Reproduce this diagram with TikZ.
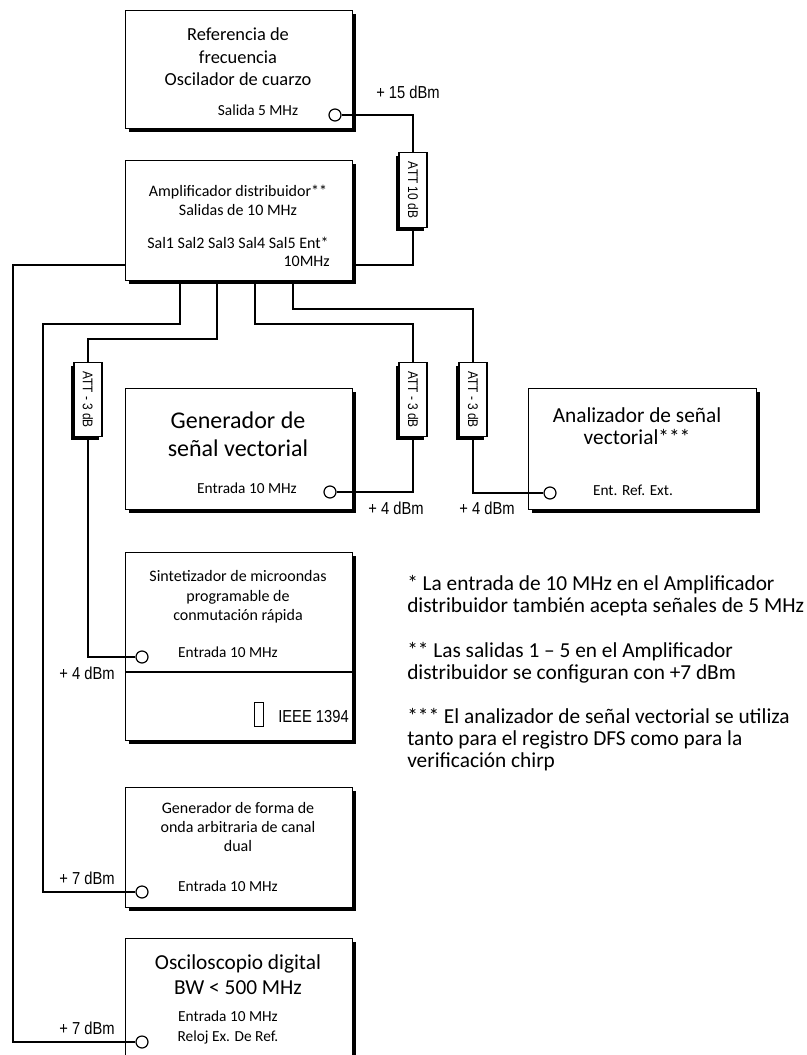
\documentclass[tikz,border=0pt]{standalone}
\usepackage{fontspec}
\setmainfont{Carlito}
\newfontfamily\narrowfont[FakeStretch=0.85]{Liberation Sans}
\usetikzlibrary{shadows}
\def\Fs#1#2{\fontsize{#1}{#2}\selectfont}
\tikzset{
	equipo/.style={draw, line width=0.9pt, fill=white, anchor=north west, inner sep=0pt,
		minimum width=170.25pt,
		drop shadow={shadow xshift=2.5pt, shadow yshift=-2.5pt, fill=black, opacity=1}},
	atenuador/.style={draw, line width=0.9pt, fill=white, inner sep=0pt,
		minimum width=21pt, minimum height=56pt, font=\narrowfont\Fs{10.5}{12},
		drop shadow={shadow xshift=-2.5pt, shadow yshift=-2.5pt, fill=black, opacity=1}},
	puerto/.style={circle, draw, line width=0.9pt, fill=white, minimum size=9pt, inner sep=0pt},
	texto/.style={align=center, inner sep=0pt, font=\Fs{11.5}{14}},
	nivel/.style={inner sep=0pt, font=\narrowfont\Fs{13}{14}},
	nota/.style={anchor=west, align=left, inner sep=0pt, font=\Fs{16}{16.5}},
	cable/.style={line width=0.9pt}
}

\begin{document}
\begin{tikzpicture}[x=0.75pt, y=-0.75pt]
\useasboundingbox (0,0) rectangle (806,1055);
\clip (0,0) rectangle (806,1055);

\node (ref) [equipo, minimum height=88.5pt] at (125,10) {};
\node (amp) [equipo, minimum height=90pt] at (125,160) {};
\node (gen) [equipo, minimum height=90.75pt] at (125,388) {};
\node (ana) [equipo, minimum height=90.75pt, minimum width=171pt] at (528,388) {};
\node (sin) [equipo, minimum height=141pt] at (125,552) {};
\node (awg) [equipo, minimum height=90pt] at (125,787) {};
\node (osc) [equipo, minimum height=120pt] at (125,938) {};
\draw[cable] (sin.west |- 0,672) -- (sin.east |- 0,672);

\node (reftxt) [texto, font=\Fs{13.8}{16.9}] at (238,57) {Referencia de\\frecuencia\\Oscilador de cuarzo};
\node (refsal) [texto] at (258,110) {Salida 5 MHz};
\node (amptxt) [texto, font=\Fs{12}{14.25}] at (238,200.5) {Amplificador distribuidor**\\Salidas de 10 MHz};
\node (ampsal) [texto, font=\Fs{12}{14.25}] at (238,243) {Sal1 Sal2 Sal3 Sal4 Sal5 Ent*};
\node (amp10) [texto, font=\Fs{12}{14.25}, anchor=east] at (330,261) {10MHz};
\node (gentxt) [texto, font=\Fs{18}{21}] at (238,434) {Generador de\\señal vectorial};
\node (genent) [texto] at (247,488) {Entrada 10 MHz};
\node (anatxt) [texto, font=\Fs{16}{16.5}] at (637,426) {Analizador de señal\\vectorial***};
\node (anaent) [texto] at (633,490) {Ent. Ref. Ext.};
\node (sintxt) [texto, font=\Fs{12}{14.6}] at (238,597) {Sintetizador de microondas\\programable de\\conmutación rápida};
\node (sinent) [texto] at (228,652) {Entrada 10 MHz};
\node (ieee) [draw, line width=0.6pt, minimum width=6.75pt, minimum height=18pt, inner sep=0pt] at (258.5,714) {};
\node (ieeetxt) [nivel, anchor=west] at (278,717) {IEEE 1394};
\node (awgtxt) [texto, font=\Fs{12}{14.25}] at (238,827) {Generador de forma de\\onda arbitraria de canal\\dual};
\node (awgent) [texto] at (228,886) {Entrada 10 MHz};
\node (osctxt) [texto, font=\Fs{16}{18.75}] at (238,974.5) {Osciloscopio digital\\BW < 500 MHz};
\node (oscent) [texto, font=\Fs{11.5}{15}] at (228,1027) {Entrada 10 MHz\\Reloj Ex. De Ref.};

\node (p5) [puerto] at (335,115) {};
\node (pgen) [puerto] at (330,492) {};
\node (pana) [puerto] at (550,493) {};
\node (psin) [puerto] at (142,657) {};
\node (pawg) [puerto] at (142,892) {};
\node (posc) [puerto] at (142,1042) {};

\node (att10) [atenuador] at (413,190) {\rotatebox{-90}{ATT 10 dB}};
\foreach \n/\x in {A/88,B/413,C/473}
	\node (att\n) [atenuador] at (\x,399.5) {\rotatebox{-90}{ATT - 3 dB}};

\node (n15) [nivel] at (408,92) {+ 15 dBm};
\node (n4a) [nivel] at (396,508) {+ 4 dBm};
\node (n4b) [nivel] at (487,508) {+ 4 dBm};
\node (n4c) [nivel] at (87,673) {+ 4 dBm};
\node (n7a) [nivel] at (87,878) {+ 7 dBm};
\node (n7b) [nivel] at (87,1028) {+ 7 dBm};

\node (nota1) [nota] at (407,596) {* La entrada de 10 MHz en el Amplificador\\distribuidor también acepta señales de 5 MHz};
\node (nota2) [nota] at (407,662.5) {** Las salidas 1 – 5 en el Amplificador\\distribuidor se configuran con +7 dBm};
\node (nota3) [nota] at (407,740) {*** El analizador de señal vectorial se utiliza\\tanto para el registro DFS como para la\\verificación chirp};

\foreach \n/\x in {1/180,2/217,3/255,4/293}
	\coordinate (sal\n) at (amp.south -| \x,0);

\draw[cable] (p5.east) -| (att10.north);
\draw[cable] (att10.south) |- (amp.east |- 0,265);
\draw[cable] (amp.west |- 0,265) -| (13,1042) -- (posc.west);
\draw[cable] (sal1) |- (43,324) |- (pawg.west);
\draw[cable] (sal2) |- (88,339) -- (attA.north);
\draw[cable] (attA.south) |- (psin.west);
\draw[cable] (sal3) |- (413,324) -- (attB.north);
\draw[cable] (attB.south) |- (pgen.east);
\draw[cable] (sal4) |- (473,309) -- (attC.north);
\draw[cable] (attC.south) |- (pana.west);
\end{tikzpicture}
\end{document}
